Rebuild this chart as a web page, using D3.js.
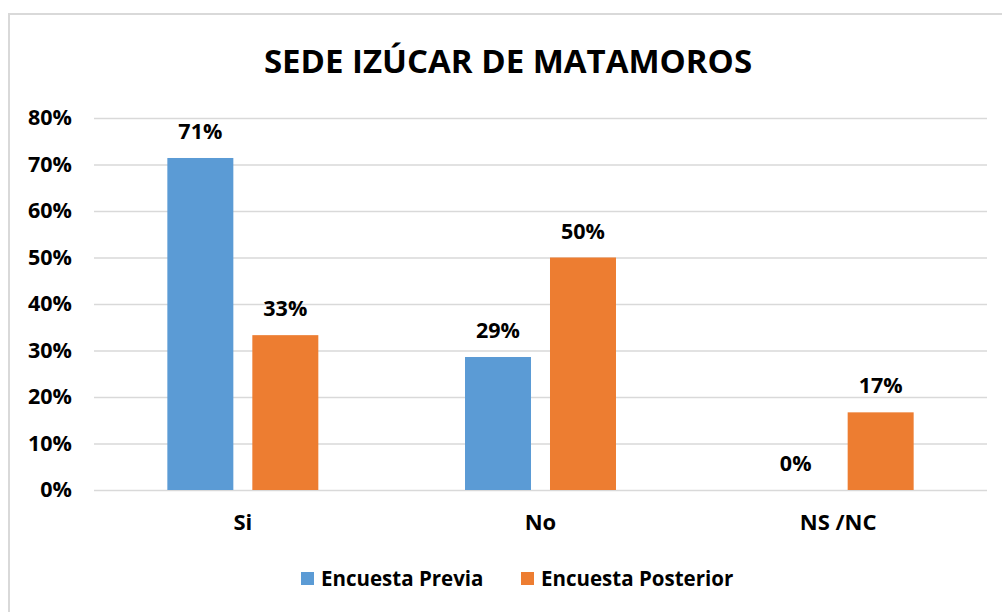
<!DOCTYPE html>
<html>
<head>
<meta charset="utf-8">
<script src="https://cdn.jsdelivr.net/npm/d3@7"></script>
<style>
  body { margin: 0; background: #fff; }
  svg text { font-family: "Open Sans", sans-serif; font-weight: bold; fill: #000; }
</style>
</head>
<body>
<div id="chart"></div>
<script>
// ##################################
//  DATA
// ##################################
const title = "SEDE IZÚCAR DE MATAMOROS"
const categories = ["Si", "No", "NS /NC"]
const seriesNames = ["Encuesta Previa", "Encuesta Posterior"]
const previa = [0.714, 0.286, 0]
const posterior = [0.333, 0.5, 0.167]
const yTicks = [0, 0.1, 0.2, 0.3, 0.4, 0.5, 0.6, 0.7, 0.8]
const colors = ["#5B9BD5", "#ED7D31"]

// ##################################
//  CONSTANTS
// ##################################
const width = 1002
const height = 612
const plot = { left: 94, right: 987, top: 118, bottom: 490 }

const rows = categories.map((c, i) => ({ cat: c, values: [previa[i], posterior[i]] }))

const svg = d3
  .select("#chart")
  .append("svg")
  .attr("width", width)
  .attr("height", height)

// chart frame
svg
  .append("rect")
  .attr("x", 9)
  .attr("y", 14)
  .attr("width", 1010)
  .attr("height", 620)
  .attr("fill", "#fff")
  .attr("stroke", "#D9D9D9")
  .attr("stroke-width", 2)

svg
  .append("text")
  .attr("x", 508)
  .attr("y", 73)
  .attr("text-anchor", "middle")
  .style("font-size", "33px")
  .text(title)

// scales
const x0 = d3.scaleBand().domain(categories).range([plot.left, plot.right])
const x1 = d3
  .scaleBand()
  .domain([0, 1])
  .range([0, x0.bandwidth()])
  .paddingInner(0.2235)
  .paddingOuter(0.863)
const y = d3.scaleLinear().domain([0, 0.8]).range([plot.bottom, plot.top])

// gridlines + y labels
const yAxis = svg
  .append("g")
  .attr("transform", `translate(${plot.left},0)`)
  .call(
    d3
      .axisLeft(y)
      .tickValues(yTicks)
      .tickFormat(d3.format(".0%"))
      .tickSize(-(plot.right - plot.left))
      .tickPadding(22)
  )
yAxis.select(".domain").remove()
yAxis.selectAll(".tick line").attr("stroke", "#D9D9D9").attr("stroke-width", 1.5)
yAxis
  .selectAll(".tick text")
  .attr("fill", "#000")
  .style("font-size", "21.5px")
  .attr("font-family", null)

// bars
const groups = svg
  .append("g")
  .selectAll("g")
  .data(rows)
  .join("g")
  .attr("transform", (d) => `translate(${x0(d.cat)},0)`)

groups
  .selectAll("rect")
  .data((d) => d.values)
  .join("rect")
  .attr("x", (d, i) => x1(i))
  .attr("y", (d) => y(d))
  .attr("width", x1.bandwidth())
  .attr("height", (d) => y(0) - y(d))
  .attr("fill", (d, i) => colors[i])

groups
  .selectAll("text")
  .data((d) => d.values)
  .join("text")
  .attr("x", (d, i) => x1(i) + x1.bandwidth() / 2)
  .attr("y", (d) => y(d) - 19)
  .attr("text-anchor", "middle")
  .style("font-size", "21.5px")
  .text((d) => d3.format(".0%")(d))

// category labels
svg
  .append("g")
  .selectAll("text")
  .data(categories)
  .join("text")
  .attr("x", (d) => x0(d) + x0.bandwidth() / 2)
  .attr("y", 530)
  .attr("text-anchor", "middle")
  .style("font-size", "22px")
  .text((d) => d)

// legend
const legendX = [301, 521]
const legend = svg
  .append("g")
  .selectAll("g")
  .data(seriesNames)
  .join("g")
  .attr("transform", (d, i) => `translate(${legendX[i]},572)`)

legend
  .append("rect")
  .attr("width", 13)
  .attr("height", 13)
  .attr("fill", (d, i) => colors[i])

legend
  .append("text")
  .attr("x", 20)
  .attr("y", 14)
  .style("font-size", "20.5px")
  .text((d) => d)
</script>
</body>
</html>
